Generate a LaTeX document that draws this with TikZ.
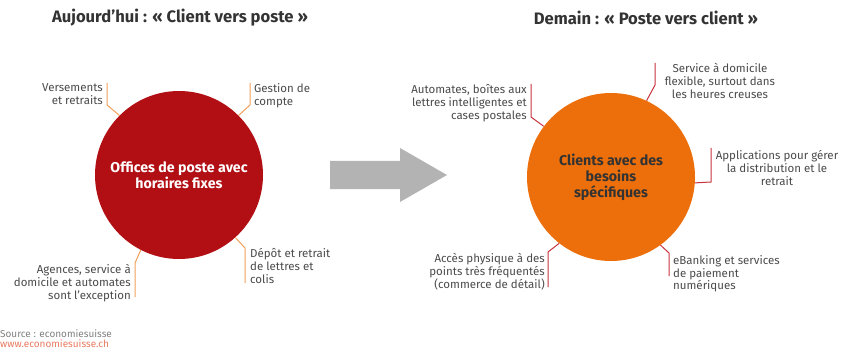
\documentclass[tikz,border=0pt]{standalone}
\usepackage{fontspec}
\setmainfont{Fira Sans}
\usetikzlibrary{positioning}

\definecolor{postred}{HTML}{B10F14}
\definecolor{clientorange}{HTML}{EC6F0B}
\definecolor{arrowgray}{HTML}{B3B3B3}
\definecolor{leadorange}{HTML}{F2A05A}
\definecolor{leadred}{HTML}{C8323C}
\definecolor{textgray}{HTML}{4A4A4A}
\definecolor{weblink}{HTML}{E9795F}

\tikzset{
  bubble/.style={circle,minimum size=168pt,inner sep=0pt,align=center,font=\bfseries\fontsize{14.2}{16}\selectfont},
  caption/.style={inner sep=0pt,text=textgray,font=\fontsize{11.5}{12.9}\selectfont},
  heading/.style={inner sep=0pt,text=black!80,font=\bfseries\fontsize{16.6}{18}\selectfont},
  source/.style={inner sep=0pt,anchor=north west,font=\fontsize{10}{11}\selectfont},
  leadold/.style={draw=leadorange,line width=1pt},
  leadnew/.style={draw=leadred,line width=1pt},
}

\begin{document}
\begin{tikzpicture}[x=1pt,y=1pt]
  \useasboundingbox (0,0) rectangle (854,354);

  \node[heading] (titleold) at (180,336) {Aujourd’hui : « Client vers poste »};
  \node[heading] (titlenew) at (646,336) {Demain : « Poste vers client »};

  \node[bubble,fill=postred,text=white] (today) at (179,179) {Offices de poste avec\\horaires fixes};
  \node[bubble,fill=clientorange,text=black!80] (tomorrow) at (611,177) {Clients avec des\\besoins\\spécifiques};

  % big grey arrow between the two circles
  \fill[arrowgray] (330,193) -- (400,193) -- (400,206) -- (447,179) -- (400,152) -- (400,165) -- (330,165) -- cycle;

  % today
  \node[caption,anchor=north east,align=right] (deposits) at (103,271) {Versements\\et retraits};
  \node[caption,anchor=north west,align=left] (account) at (254,271) {Gestion de\\compte};
  \node[caption,anchor=north west,align=left] (letters) at (250,106) {Dépôt et retrait\\de lettres et\\colis};
  \node[caption,anchor=north east,align=right] (agencies) at (131,90) {Agences, service à\\domicile et automates\\sont l’exception};

  \coordinate (d1) at (107,249); \coordinate (d2) at (107,271);
  \coordinate (a1) at (250,249); \coordinate (a2) at (250,271);
  \coordinate (l1) at (245,106); \coordinate (l2) at (245,71);
  \coordinate (g1) at (135,91);  \coordinate (g2) at (135,57);
  \draw[leadold] (today.135) -- (d1) -- (d2);
  \draw[leadold] (today.45) -- (a1) -- (a2);
  \draw[leadold] (today.-48) -- (l1) -- (l2);
  \draw[leadold] (today.-117) -- (g1) -- (g2);

  % tomorrow
  \node[caption,anchor=north east,align=right] (boxes) at (527,270) {Automates, boîtes aux\\lettres intelligentes et\\cases postales};
  \node[caption,anchor=north,align=center] (homeservice) at (720,291) {Service à domicile\\flexible, surtout dans\\les heures creuses};
  \node[caption,anchor=north,align=center] (apps) at (777,204) {Applications pour gérer\\la distribution et le\\retrait};
  \node[caption,anchor=north east,align=right] (access) at (545,101) {Accès physique à des\\points très fréquentés\\(commerce de détail)};
  \node[caption,anchor=north west,align=left] (ebanking) at (673,99) {eBanking et services\\de paiement\\numériques};

  \coordinate (b1) at (531,237); \coordinate (b2) at (531,270);
  \coordinate (h1) at (655,269); \coordinate (h2) at (655,291);
  \coordinate (p1) at (711,172); \coordinate (p2) at (711,206);
  \coordinate (x1) at (548,102); \coordinate (x2) at (548,67);
  \coordinate (e1) at (669,101); \coordinate (e2) at (669,78);
  \draw[leadnew] (tomorrow.143) -- (b1) -- (b2);
  \draw[leadnew] (tomorrow.65) -- (h1) -- (h2);
  \draw[leadnew] (tomorrow.-4) -- (p1) -- (p2);
  \draw[leadnew] (tomorrow.-128) -- (x1) -- (x2);
  \draw[leadnew] (tomorrow.-54) -- (e1) -- (e2);

  \node[source,text=gray] (src) at (0,25) {Source : economiesuisse};
  \node[source,text=weblink,below=2.5pt of src.south west,anchor=north west] (web) {www.economiesuisse.ch};
\end{tikzpicture}
\end{document}
